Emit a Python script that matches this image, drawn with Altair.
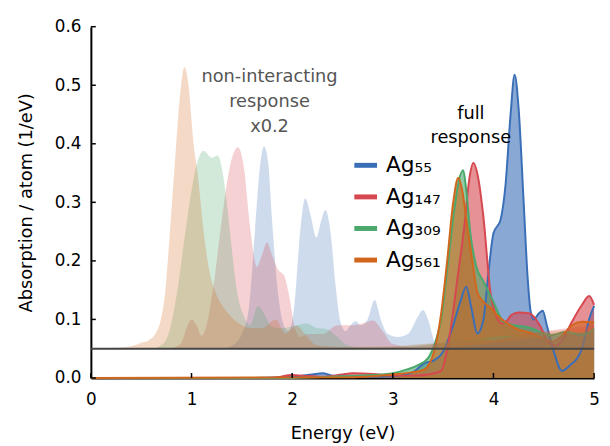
import altair as alt
import pandas as pd

# ---------------- data ----------------
series = ["Ag₅₅", "Ag₁₄₇", "Ag₃₀₉", "Ag₅₆₁"]
colors = ["#3a6fb7", "#d6474f", "#4aa86b", "#d2661c"]

# full response (Absorption / atom, 1/eV)
full_x = {
    "Ag₅₅": [0.0, 1.5, 2.0, 2.2, 2.3, 2.4, 2.6, 3.0, 3.2, 3.31, 3.41, 3.5, 3.6, 3.67, 3.73, 3.78, 3.84, 3.9,
             3.95, 4.0, 4.07, 4.12, 4.17, 4.21, 4.25, 4.3, 4.34, 4.37, 4.4, 4.45, 4.49, 4.53, 4.6, 4.68, 4.75,
             4.88, 4.95, 5.0],
    "Ag₁₄₇": [0.0, 1.8, 2.0, 2.1, 2.3, 2.5, 2.6, 2.8, 3.0, 3.2, 3.35, 3.48, 3.53, 3.58, 3.65, 3.71, 3.76, 3.80,
              3.85, 3.90, 3.97, 4.03, 4.08, 4.12, 4.18, 4.25, 4.36, 4.46, 4.55, 4.62, 4.7, 4.78, 4.88, 4.95, 5.0],
    "Ag₃₀₉": [0.0, 2.0, 2.5, 2.8, 3.0, 3.15, 3.25, 3.35, 3.42, 3.48, 3.55, 3.61, 3.66, 3.70, 3.73, 3.77, 3.83,
              3.90, 4.0, 4.1, 4.2, 4.3, 4.39, 4.47, 4.56, 4.65, 4.72, 4.8, 4.88, 5.0],
    "Ag₅₆₁": [0.0, 2.5, 3.0, 3.2, 3.31, 3.41, 3.48, 3.54, 3.6, 3.65, 3.69, 3.74, 3.79, 3.84, 3.9, 3.97, 4.05,
              4.15, 4.23, 4.35, 4.46, 4.59, 4.68, 4.78, 4.88, 5.0],
}
full_y = {
    "Ag₅₅": [0.0, 0.0, 0.002, 0.006, 0.008, 0.004, 0.002, 0.003, 0.01, 0.025, 0.03, 0.045, 0.09, 0.13, 0.156,
             0.12, 0.076, 0.1, 0.18, 0.247, 0.27, 0.33, 0.45, 0.518, 0.46, 0.3, 0.17, 0.113, 0.10, 0.11, 0.115,
             0.09, 0.045, 0.012, 0.02, 0.05, 0.1, 0.123],
    "Ag₁₄₇": [0.0, 0.0, 0.005, 0.004, 0.002, 0.006, 0.008, 0.007, 0.004, 0.004, 0.006, 0.012, 0.04, 0.09, 0.18,
              0.258, 0.34, 0.367, 0.34, 0.275, 0.146, 0.105, 0.093, 0.095, 0.108, 0.112, 0.11, 0.09, 0.06,
              0.055, 0.07, 0.096, 0.125, 0.14, 0.125],
    "Ag₃₀₉": [0.0, 0.0, 0.003, 0.005, 0.008, 0.015, 0.022, 0.034, 0.06, 0.10, 0.2, 0.287, 0.34, 0.355, 0.32,
              0.248, 0.19, 0.165, 0.13, 0.096, 0.09, 0.088, 0.084, 0.078, 0.073, 0.076, 0.079, 0.076, 0.073,
              0.084],
    "Ag₅₆₁": [0.0, 0.001, 0.006, 0.01, 0.014, 0.045, 0.11, 0.2, 0.3, 0.342, 0.32, 0.258, 0.2, 0.146, 0.13,
              0.12, 0.105, 0.092, 0.084, 0.078, 0.07, 0.062, 0.072, 0.09, 0.096, 0.095],
}

# non-interacting response x0.2 (height above its own baseline)
ni_x = {
    "Ag₅₅": [1.3, 1.4, 1.5, 1.57, 1.63, 1.68, 1.72, 1.76, 1.8, 1.85, 1.9, 1.96, 2.02, 2.07, 2.13, 2.18, 2.24,
             2.29, 2.33, 2.38, 2.43, 2.48, 2.53, 2.58, 2.63, 2.68, 2.75, 2.82, 2.88, 2.95, 3.05, 3.15, 3.25, 3.3,
             3.35, 3.42, 3.5, 4.0, 4.5, 5.0],
    "Ag₁₄₇": [0.8, 0.9, 0.95, 1.0, 1.05, 1.1, 1.15, 1.22, 1.3, 1.38, 1.46, 1.52, 1.58, 1.65, 1.7, 1.75, 1.8,
              1.86, 1.92, 1.97, 2.02, 2.08, 2.15, 2.3, 2.45, 2.6, 2.7, 2.8, 2.9, 3.0, 3.2, 3.5, 4.0, 4.5, 5.0],
    "Ag₃₀₉": [0.6, 0.7, 0.78, 0.86, 0.94, 1.02, 1.08, 1.12, 1.17, 1.2, 1.26, 1.3, 1.35, 1.4, 1.45, 1.52, 1.58,
              1.66, 1.72, 1.8, 1.9, 2.0, 2.14, 2.25, 2.33, 2.45, 2.55, 2.7, 3.0, 3.5, 4.0, 4.5, 5.0],
    "Ag₅₆₁": [0.0, 0.3, 0.4, 0.5, 0.58, 0.64, 0.69, 0.74, 0.78, 0.84, 0.89, 0.93, 0.97, 1.02, 1.06, 1.12, 1.18,
              1.23, 1.3, 1.35, 1.42, 1.5, 1.6, 1.7, 1.84, 1.93, 2.04, 2.15, 2.24, 2.5, 3.0, 3.3, 3.6, 3.8, 4.0,
              4.3, 4.6, 5.0],
}
ni_y = {
    "Ag₅₅": [0.0, 0.005, 0.025, 0.07, 0.2, 0.31, 0.346, 0.32, 0.22, 0.11, 0.05, 0.03, 0.07, 0.18, 0.257, 0.23,
             0.19, 0.22, 0.237, 0.2, 0.11, 0.045, 0.03, 0.04, 0.047, 0.04, 0.05, 0.083, 0.05, 0.025, 0.02, 0.025,
             0.055, 0.066, 0.05, 0.01, 0.002, 0.01, 0.02, 0.03],
    "Ag₁₄₇": [0.0, 0.01, 0.035, 0.05, 0.04, 0.022, 0.04, 0.11, 0.22, 0.31, 0.344, 0.31, 0.21, 0.14, 0.16, 0.182,
              0.16, 0.135, 0.125, 0.09, 0.04, 0.02, 0.025, 0.025, 0.04, 0.04, 0.043, 0.048, 0.03, 0.008, 0.003,
              0.01, 0.015, 0.03, 0.04],
    "Ag₃₀₉": [0.0, 0.006, 0.03, 0.1, 0.2, 0.29, 0.33, 0.338, 0.33, 0.326, 0.33, 0.31, 0.25, 0.17, 0.1, 0.056,
              0.04, 0.073, 0.06, 0.037, 0.035, 0.038, 0.043, 0.035, 0.034, 0.02, 0.006, 0.002, 0.003, 0.01, 0.02,
              0.025, 0.03],
    "Ag₅₆₁": [0.0, 0.002, 0.004, 0.01, 0.015, 0.025, 0.046, 0.1, 0.186, 0.33, 0.44, 0.481, 0.45, 0.35, 0.3,
              0.2, 0.13, 0.1, 0.075, 0.063, 0.05, 0.04, 0.035, 0.035, 0.05, 0.026, 0.039, 0.02, 0.006, 0.003,
              0.004, 0.008, 0.01, 0.02, 0.015, 0.025, 0.03, 0.035],
}
ni_offset = 0.05

x_ticks = [0, 1, 2, 3, 4, 5]
y_ticks = [0.0, 0.1, 0.2, 0.3, 0.4, 0.5, 0.6]

ann_text = [["non-interacting", "response", "x0.2"], ["full", "response"]]
ann_x = [1.775, 3.775]
ann_y = [0.514, 0.450]
ann_color = ["#555555", "#000000"]
ann_lh = [25.5, 23.5]

# ---------------- chart ----------------
FONT = "DejaVu Sans"
W, H = 510, 356
xs = alt.Scale(domain=[0, 5], nice=False)
ys = alt.Scale(domain=[0, 0.6], nice=False)
cscale = alt.Scale(domain=series, range=colors)

XAX = alt.Axis(title="Energy (eV)", values=x_ticks, format="d", tickSize=0, labelPadding=14,
               titlePadding=17, grid=False, labelFlush=False)
YAX = alt.Axis(title="Absorption / atom (1/eV)", values=y_ticks, format=".1f", tickSize=0,
               labelPadding=10, titlePadding=19, grid=False, labelFlush=False)


def X(field):
    return alt.X(field, scale=xs, axis=XAX)


def Y(field):
    return alt.Y(field, scale=ys, axis=YAX)


LEG = alt.Legend(title=None, orient="none", legendX=264, legendY=126, symbolType="stroke",
                 symbolStrokeWidth=5, symbolSize=530, labelFontSize=22, labelFont=FONT,
                 labelColor="black", rowPadding=6, labelOffset=6)

layers = []
# full-response areas
for s, c in zip(series, colors):
    df = pd.DataFrame({"E": full_x[s], "A": full_y[s], "series": s})
    layers.append(alt.Chart(df).mark_area(interpolate="monotone", fillOpacity=0.6, color=c).encode(
        x=X("E:Q"), y=Y("A:Q")))
# full-response lines (these carry the legend)
for s in series:
    df = pd.DataFrame({"E": full_x[s], "A": full_y[s], "series": s})
    layers.append(alt.Chart(df).mark_line(interpolate="monotone", strokeWidth=2).encode(
        x=X("E:Q"), y=Y("A:Q"),
        color=alt.Color("series:N", scale=cscale, legend=LEG)))

# non-interacting areas (faint, offset baseline)
for s, c in zip(series, colors):
    df = pd.DataFrame({"E": ni_x[s], "v": ni_y[s], "series": s})
    layers.append(alt.Chart(df).transform_calculate(
        top=f"datum.v + {ni_offset}", bot=f"{ni_offset}").mark_area(
        interpolate="monotone", fillOpacity=0.25, color=c).encode(
        x=X("E:Q"), y=Y("top:Q"), y2="bot:Q"))

# baseline for non-interacting curves
layers.append(alt.Chart(pd.DataFrame({"b": [ni_offset]})).mark_rule(color="#444444", strokeWidth=2).encode(
    y=Y("b:Q")))

# inward ticks
layers.append(alt.Chart(pd.DataFrame({"t": x_ticks})).mark_rule(color="black", strokeWidth=1.5).encode(
    x=X("t:Q"), y=alt.value(H), y2=alt.value(H - 5)))
layers.append(alt.Chart(pd.DataFrame({"t": y_ticks})).mark_rule(color="black", strokeWidth=1.5).encode(
    y=Y("t:Q"), x=alt.value(0), x2=alt.value(5)))

# annotations
for txt, ax, ay, col, lh in zip(ann_text, ann_x, ann_y, ann_color, ann_lh):
    layers.append(alt.Chart(pd.DataFrame({"E": [ax], "A": [ay], "t": [txt]})).mark_text(
        font=FONT, fontSize=18, color=col, align="center", baseline="middle",
        lineHeight=lh).encode(x=X("E:Q"), y=Y("A:Q"), text="t"))

chart = alt.layer(*layers).properties(
    width=W, height=H,
    autosize=alt.AutoSizeParams(type="none"),
    padding={"left": 84, "top": 16, "right": 8, "bottom": 66},
    background="white",
).configure_view(strokeWidth=0).configure_axis(
    domainColor="black", domainWidth=2, labelFont=FONT, titleFont=FONT, labelFontSize=17,
    titleFontSize=18, labelColor="black", titleColor="black", titleFontWeight="normal",
)

chart.save("out.html", embed_options={"renderer": "svg", "actions": False})
